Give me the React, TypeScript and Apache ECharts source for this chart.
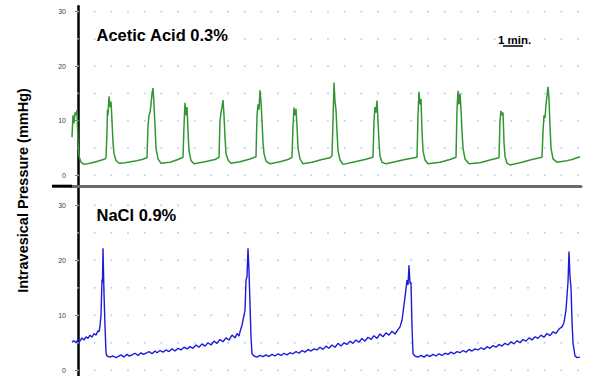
import React, { useEffect, useRef } from 'react';
import * as echarts from 'echarts';

// Y-axis tick labels (mmHg)
const Y_TICKS = [0, 10, 20, 30];
// Dotted grid rows (mmHg) and columns (minutes)
const DOT_ROWS = [0, 5, 10, 15, 20, 25, 30];
const DOT_MINUTES = [0, 1, 2, 3, 4, 5, 6, 7, 8, 9, 10, 11, 12, 13, 14, 15, 16, 17, 18, 19, 20, 21, 22, 23, 24, 25, 26, 27, 28, 29, 30];

const TOP_TITLE = 'Acetic Acid 0.3%';
const BOTTOM_TITLE = 'NaCl 0.9%';
const Y_TITLE = 'Intravesical Pressure (mmHg)';
const SCALE_LABEL = '1 min.';

// [time (min), pressure (mmHg)]
const ACETIC: [number, number][] = [
  [-0.36, 7], [-0.30, 11], [-0.24, 9.5], [-0.18, 11.5], [-0.12, 11], [-0.06, 12], [0, 6], [0.06, 3.5], [0.18, 2.4], [0.36, 2.0],
  [0.72, 2.2], [1.08, 2.5], [1.32, 2.7], [1.62, 3.0], [1.68, 3.2],
  [1.74, 8], [1.77, 12], [1.80, 11], [1.86, 14.5], [1.92, 12.5], [1.98, 13.5], [2.04, 10], [2.10, 6], [2.16, 4], [2.28, 2.7], [2.46, 2.2],
  [2.82, 2.3], [3.42, 2.6], [3.84, 2.9], [4.14, 3.2],
  [4.20, 9], [4.26, 11], [4.32, 11.5], [4.38, 13], [4.44, 15], [4.50, 16], [4.56, 13], [4.62, 9], [4.68, 5], [4.80, 3], [4.98, 2.2],
  [5.52, 2.4], [6.00, 2.9], [6.30, 3.3],
  [6.36, 9], [6.42, 13.3], [6.48, 11], [6.54, 12.5], [6.60, 8], [6.66, 4.5], [6.78, 2.7], [6.96, 2.1],
  [7.62, 2.5], [8.22, 2.9], [8.46, 3.3],
  [8.52, 10], [8.58, 11.5], [8.64, 12.5], [8.70, 13.8], [8.76, 11], [8.82, 7], [8.88, 4], [9.00, 2.8], [9.18, 2.2],
  [9.72, 2.5], [10.32, 3.0], [10.68, 3.4],
  [10.74, 11], [10.80, 13], [10.86, 12], [10.92, 15.6], [10.98, 13.5], [11.04, 10], [11.10, 6], [11.16, 4], [11.28, 2.6], [11.52, 2.1],
  [12.12, 2.5], [12.60, 2.9], [12.84, 3.3],
  [12.90, 9], [12.96, 12.4], [13.02, 11], [13.08, 12.2], [13.14, 9], [13.20, 5], [13.32, 3], [13.50, 2.1],
  [14.04, 2.4], [14.64, 2.9], [15.12, 3.2], [15.24, 3.6],
  [15.30, 10], [15.36, 17], [15.42, 13.5], [15.48, 12], [15.54, 8], [15.60, 4.5], [15.72, 2.8], [15.90, 2.0],
  [16.62, 2.5], [17.22, 2.9], [17.70, 3.3],
  [17.76, 10], [17.82, 12.5], [17.88, 11.5], [17.94, 13.7], [18.00, 10], [18.06, 6], [18.12, 3.5], [18.24, 2.4], [18.48, 2.1],
  [19.02, 2.5], [19.62, 2.9], [20.34, 3.3],
  [20.40, 11], [20.46, 15.3], [20.52, 13], [20.58, 14], [20.64, 8], [20.70, 4.5], [20.82, 2.8], [21.00, 2.1],
  [21.72, 2.4], [22.32, 2.9], [22.68, 3.3],
  [22.74, 12], [22.80, 15.5], [22.86, 13], [22.92, 15], [22.98, 12], [23.04, 8], [23.10, 5], [23.22, 3], [23.46, 2.1],
  [24.12, 2.3], [24.72, 2.8], [25.26, 3.2],
  [25.32, 10], [25.38, 11.8], [25.44, 11], [25.50, 11.5], [25.56, 6], [25.62, 3.5], [25.74, 2.2], [25.92, 1.9],
  [26.52, 2.3], [27.24, 2.9], [27.84, 3.3],
  [27.90, 8], [27.96, 11], [28.02, 10.5], [28.08, 13], [28.14, 14.5], [28.20, 16.2], [28.26, 14], [28.32, 9], [28.38, 5], [28.50, 3], [28.74, 2.4],
  [29.22, 2.6], [29.64, 2.9], [30.12, 3.4],
];

const NACL: [number, number][] = [
  [-0.36, 5.1], [-0.24, 5.4], [-0.12, 5.0], [0, 5.6], [0.12, 5.3], [0.24, 5.9], [0.36, 5.5], [0.48, 6.1], [0.60, 5.8], [0.72, 6.4],
  [0.84, 6.0], [0.96, 6.7], [1.08, 6.4], [1.20, 7.2], [1.26, 7.0], [1.32, 8], [1.38, 10], [1.44, 16.5], [1.47, 16], [1.50, 22.2],
  [1.53, 18], [1.56, 14], [1.62, 8], [1.68, 3.2], [1.74, 2.6], [1.92, 2.4],
  [2.10, 2.6], [2.28, 2.3], [2.40, 2.5], [2.58, 2.8], [2.76, 2.4], [2.94, 2.9], [3.06, 2.6], [3.24, 2.8], [3.42, 3.1], [3.60, 2.7],
  [3.78, 3.2], [3.90, 2.9], [4.08, 3.1], [4.26, 3.4], [4.44, 3.0], [4.62, 3.5], [4.74, 3.2], [4.92, 3.6], [5.10, 3.3], [5.28, 3.7],
  [5.46, 3.4], [5.64, 3.9], [5.82, 3.5], [6.00, 4.0], [6.18, 3.7], [6.36, 4.2], [6.54, 3.9], [6.72, 4.3], [6.90, 4.0], [7.08, 4.6],
  [7.26, 4.2], [7.44, 4.8], [7.62, 4.4], [7.80, 5.0], [7.98, 4.6], [8.16, 5.3], [8.34, 4.9], [8.52, 5.6], [8.70, 5.2], [8.88, 5.9],
  [9.06, 5.5], [9.24, 6.4], [9.42, 5.9], [9.54, 6.7], [9.66, 6.2], [9.72, 7.0],
  [9.84, 8.2], [10.02, 10.9], [10.08, 16.4], [10.14, 17], [10.20, 22.2], [10.26, 18], [10.32, 12], [10.38, 6], [10.44, 3], [10.56, 2.6],
  [10.74, 2.4], [10.92, 2.7], [11.10, 2.5], [11.28, 2.8], [11.46, 2.5], [11.64, 2.9], [11.82, 2.6], [12.00, 3.0], [12.18, 2.7], [12.36, 3.1],
  [12.54, 2.8], [12.72, 3.2], [12.90, 3.0], [13.08, 3.4], [13.26, 3.1], [13.44, 3.6], [13.62, 3.3], [13.80, 3.8], [13.98, 3.5], [14.16, 3.9],
  [14.34, 3.7], [14.52, 4.2], [14.70, 3.8], [14.88, 4.4], [15.06, 4.0], [15.24, 4.6], [15.42, 4.2], [15.60, 4.9], [15.78, 4.4], [15.96, 5.0],
  [16.14, 4.7], [16.32, 5.3], [16.50, 4.9], [16.68, 5.5], [16.86, 5.1], [17.04, 5.8], [17.22, 5.3], [17.40, 6.0], [17.58, 5.6], [17.76, 6.3],
  [17.94, 5.8], [18.12, 6.6], [18.30, 6.1], [18.48, 6.8], [18.66, 6.4], [18.84, 7.1], [19.02, 6.6], [19.20, 7.4], [19.32, 7.9],
  [19.44, 9.1], [19.62, 13.3], [19.74, 16.4], [19.80, 15.5], [19.86, 19.1], [19.92, 15.8], [19.98, 16], [20.04, 8], [20.10, 3], [20.22, 2.6],
  [20.40, 2.4], [20.58, 2.7], [20.76, 2.4], [20.94, 2.8], [21.12, 2.5], [21.30, 2.9], [21.48, 2.6], [21.66, 3.0], [21.84, 2.7], [22.02, 3.1],
  [22.20, 2.9], [22.38, 3.3], [22.56, 3.0], [22.74, 3.4], [22.92, 3.2], [23.10, 3.6], [23.28, 3.3], [23.46, 3.8], [23.64, 3.5], [23.82, 3.9],
  [24.00, 3.7], [24.18, 4.1], [24.36, 3.8], [24.54, 4.3], [24.72, 4.0], [24.90, 4.5], [25.08, 4.2], [25.26, 4.7], [25.44, 4.4], [25.62, 4.9],
  [25.80, 4.6], [25.98, 5.2], [26.16, 4.8], [26.34, 5.4], [26.52, 5.0], [26.70, 5.6], [26.88, 5.3], [27.06, 5.9], [27.24, 5.5], [27.42, 6.1],
  [27.60, 5.8], [27.78, 6.4], [27.96, 6.0], [28.14, 6.7], [28.32, 6.3], [28.50, 7.0], [28.68, 6.7], [28.86, 7.5], [29.04, 7.9], [29.16, 8.7],
  [29.28, 11], [29.40, 16], [29.46, 21.6], [29.52, 17], [29.58, 15], [29.64, 9], [29.70, 5], [29.82, 2.6], [29.94, 2.3], [30.12, 2.4],
];

const FONT = '"Liberation Sans", Arial, sans-serif';

export default function App() {
  const ref = useRef<HTMLDivElement>(null);

  useEffect(() => {
    if (!ref.current) return;
    const chart = echarts.init(ref.current, undefined, { renderer: 'svg' });
    const dots = DOT_MINUTES.flatMap((m) => DOT_ROWS.map((r) => [m, r]));

    const yAxisBase = (min: number, max: number, gridIndex: number) => ({
      type: 'value' as const,
      gridIndex,
      min,
      max,
      axisLine: { show: true, lineStyle: { color: '#000', width: 2.5 } },
      axisTick: { show: true, length: 3, customValues: Y_TICKS, lineStyle: { color: '#777', width: 1 } },
      axisLabel: { customValues: Y_TICKS, fontSize: 7, color: '#444', margin: 6, fontFamily: FONT },
      splitLine: { show: false },
    });

    const xAxisBase = (gridIndex: number, color: string, width: number) => ({
      type: 'value' as const,
      gridIndex,
      min: -0.36,
      max: 30.18,
      axisLine: { show: true, onZero: false, lineStyle: { color, width } },
      axisTick: { show: false },
      axisLabel: { show: false },
      splitLine: { show: false },
    });

    chart.setOption({
      animation: false,
      backgroundColor: '#fff',
      grid: [
        { left: 72, right: 9, top: 6.2, height: 180 },
        { left: 72, right: 9, top: 186.05, height: 189.75 },
      ],
      xAxis: [xAxisBase(0, '#6a6a6a', 3), xAxisBase(1, '#cfcfcf', 1)],
      yAxis: [yAxisBase(-2, 31, 0), yAxisBase(-1, 33.5, 1)],
      series: [
        {
          type: 'scatter', xAxisIndex: 0, yAxisIndex: 0, data: dots, symbol: 'rect', symbolSize: 1.7,
          itemStyle: { color: '#8ecbf2' }, silent: true, z: 1,
        },
        {
          type: 'scatter', xAxisIndex: 1, yAxisIndex: 1, data: dots, symbol: 'rect', symbolSize: 1.7,
          itemStyle: { color: '#8ecbf2' }, silent: true, z: 1,
        },
        {
          type: 'line', xAxisIndex: 0, yAxisIndex: 0, data: ACETIC, showSymbol: false, symbol: 'none',
          lineStyle: { color: '#339633', width: 1.5 }, z: 3,
        },
        {
          type: 'line', xAxisIndex: 1, yAxisIndex: 1, data: NACL, showSymbol: false, symbol: 'none',
          lineStyle: { color: '#1c1cd8', width: 1.4 }, z: 3,
        },
      ],
      graphic: [
        { type: 'line', shape: { x1: 52, y1: 186.2, x2: 72, y2: 186.2 }, style: { stroke: '#000', lineWidth: 3 }, z: 10 },
        {
          type: 'text', x: 23, y: 190.5, rotation: Math.PI / 2,
          style: { text: Y_TITLE, font: `bold 14.5px ${FONT}`, fill: '#000', align: 'center', verticalAlign: 'middle' },
        },
        {
          type: 'text', x: 96.5, y: 34.5,
          style: { text: TOP_TITLE, font: `bold 16.5px ${FONT}`, fill: '#000', align: 'left', verticalAlign: 'middle' },
        },
        {
          type: 'text', x: 96.5, y: 215,
          style: { text: BOTTOM_TITLE, font: `bold 16.5px ${FONT}`, fill: '#000', align: 'left', verticalAlign: 'middle' },
        },
        {
          type: 'text', x: 498, y: 40,
          style: { text: SCALE_LABEL, font: `bold 11.5px ${FONT}`, fill: '#000', align: 'left', verticalAlign: 'middle' },
        },
        { type: 'line', shape: { x1: 503, y1: 46, x2: 523, y2: 46 }, style: { stroke: '#000', lineWidth: 1.5 } },
      ],
    });

    return () => chart.dispose();
  }, []);

  return (
    <div
      ref={ref}
      style={{ position: 'fixed', left: 0, top: 0, width: 590, height: 376, background: '#fff' }}
    />
  );
}
